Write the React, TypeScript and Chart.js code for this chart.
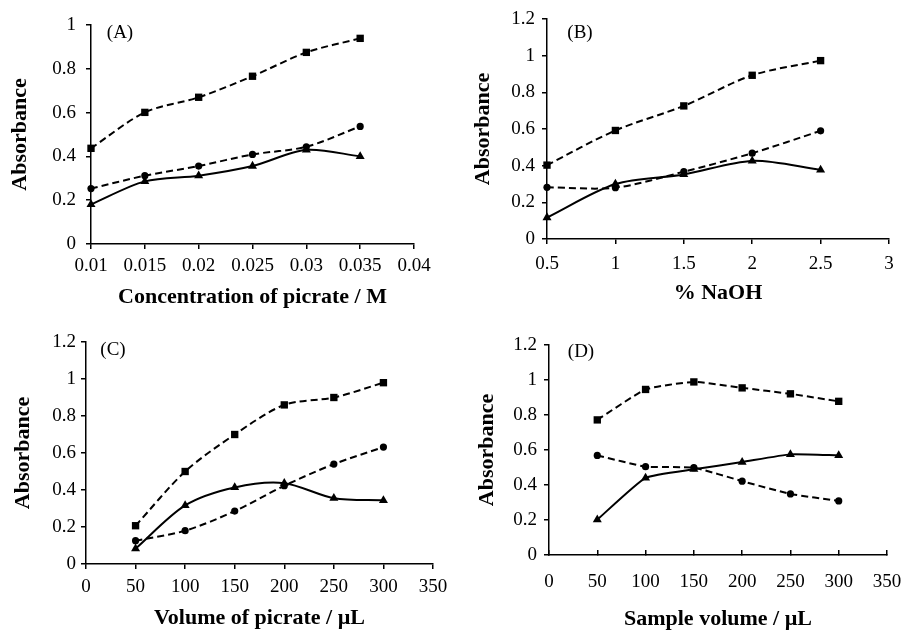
import React, { useEffect, useRef } from 'react';
import { Chart, registerables } from 'chart.js';

Chart.register(...registerables);

// ---------- Data ----------
// Panel A: concentration of picrate / M
const xA = [0.01, 0.015, 0.02, 0.025, 0.03, 0.035];
const squaresA = [0.437, 0.601, 0.67, 0.766, 0.875, 0.939];
const circlesA = [0.253, 0.312, 0.356, 0.409, 0.444, 0.537];
const trianglesA = [0.181, 0.286, 0.312, 0.356, 0.43, 0.4];
const xTicksA = [0.01, 0.015, 0.02, 0.025, 0.03, 0.035, 0.04];
const yTicksA = [0, 0.2, 0.4, 0.6, 0.8, 1];

// Panel B: % NaOH
const xB = [0.5, 1, 1.5, 2, 2.5];
const squaresB = [0.403, 0.592, 0.726, 0.893, 0.973];
const circlesB = [0.282, 0.28, 0.367, 0.468, 0.59];
const trianglesB = [0.117, 0.3, 0.352, 0.426, 0.377];
const xTicksB = [0.5, 1, 1.5, 2, 2.5, 3];
const yTicksB = [0, 0.2, 0.4, 0.6, 0.8, 1, 1.2];

// Panel C: volume of picrate / µL
const xC = [50, 100, 150, 200, 250, 300];
const squaresC = [0.207, 0.5, 0.7, 0.86, 0.9, 0.98];
const circlesC = [0.126, 0.18, 0.286, 0.423, 0.54, 0.632];
const trianglesC = [0.083, 0.317, 0.414, 0.437, 0.356, 0.344];
const xTicksC = [0, 50, 100, 150, 200, 250, 300, 350];
const yTicksC = [0, 0.2, 0.4, 0.6, 0.8, 1, 1.2];

// Panel D: sample volume / µL
const xD = [50, 100, 150, 200, 250, 300];
const squaresD = [0.772, 0.946, 0.989, 0.955, 0.921, 0.878];
const circlesD = [0.569, 0.505, 0.499, 0.422, 0.349, 0.309];
const trianglesD = [0.202, 0.441, 0.49, 0.531, 0.575, 0.569];
const xTicksD = [0, 50, 100, 150, 200, 250, 300, 350];
const yTicksD = [0, 0.2, 0.4, 0.6, 0.8, 1, 1.2];

const yTitle = 'Absorbance';

// ---------- Panel definitions ----------
type PanelDef = {
  label: string;
  xTitle: string;
  x: number[];
  squares: number[];
  circles: number[];
  triangles: number[];
  xTicks: number[];
  yTicks: number[];
  tension: number;
  // layout (pixels)
  left: number;
  top: number;
  w: number;
  h: number;
  yW: number;
  xH: number;
  padTop: number;
  padRight: number;
  yLabelPad: number;
  xLabelPad: number;
  xTickLen: number;
  yTitlePad: number;
  xTitlePad: number;
  labelDx: number;
  labelDy: number;
};

const panels: PanelDef[] = [
  {
    label: '(A)', xTitle: 'Concentration of picrate / M',
    x: xA, squares: squaresA, circles: circlesA, triangles: trianglesA,
    xTicks: xTicksA, yTicks: yTicksA, tension: 0.3,
    left: 0, top: 0, w: 450, h: 310, yW: 91, xH: 66, padTop: 25, padRight: 36,
    yLabelPad: 10, xLabelPad: 6, xTickLen: 5, yTitlePad: 9, xTitlePad: 2, labelDx: 29, labelDy: 8,
  },
  {
    label: '(B)', xTitle: '% NaOH',
    x: xB, squares: squaresB, circles: circlesB, triangles: trianglesB,
    xTicks: xTicksB, yTicks: yTicksB, tension: 0.3,
    left: 450, top: 0, w: 451, h: 310, yW: 97, xH: 71, padTop: 19, padRight: 12,
    yLabelPad: 7, xLabelPad: 9, xTickLen: 5, yTitlePad: 22, xTitlePad: 6, labelDx: 33, labelDy: 14,
  },
  {
    label: '(C)', xTitle: 'Volume of picrate / \u00b5L',
    x: xC, squares: squaresC, circles: circlesC, triangles: trianglesC,
    xTicks: xTicksC, yTicks: yTicksC, tension: 0.3,
    left: 0, top: 310, w: 450, h: 320, yW: 86, xH: 66, padTop: 32, padRight: 17,
    yLabelPad: 5, xLabelPad: 7, xTickLen: 5, yTitlePad: 12, xTitlePad: 1, labelDx: 27, labelDy: 8,
  },
  {
    label: '(D)', xTitle: 'Sample volume / \u00b5L',
    x: xD, squares: squaresD, circles: circlesD, triangles: trianglesD,
    xTicks: xTicksD, yTicks: yTicksD, tension: 0.15,
    left: 450, top: 310, w: 451, h: 320, yW: 99, xH: 75, padTop: 35, padRight: 14,
    yLabelPad: 7, xLabelPad: 21, xTickLen: -5, yTitlePad: 26, xTitlePad: 0, labelDx: 32, labelDy: 7,
  },
];

const FONT = '"Liberation Serif", "Times New Roman", "DejaVu Serif", serif';

const panelLabelPlugin = {
  id: 'panelLabel',
  afterDraw(chart: any, _args: any, opts: any) {
    const { ctx, chartArea } = chart;
    ctx.save();
    ctx.font = `19px ${FONT}`;
    ctx.fillStyle = '#000';
    ctx.textAlign = 'center';
    ctx.textBaseline = 'middle';
    ctx.fillText(opts.text, chartArea.left + opts.dx, chartArea.top + opts.dy);
    ctx.restore();
  },
};

function fmt(v: number): string {
  return String(Number(v.toFixed(4)));
}

function Panel({ p }: { p: PanelDef }) {
  const ref = useRef<HTMLCanvasElement | null>(null);
  useEffect(() => {
    if (!ref.current) return;
    const mk = (vals: number[]) => p.x.map((xv, i) => ({ x: xv, y: vals[i] }));
    const common = {
      borderColor: '#000',
      backgroundColor: '#000',
      pointBorderColor: '#000',
      pointBackgroundColor: '#000',
      borderWidth: 2,
      pointBorderWidth: 0,
      tension: p.tension,
      clip: false as any,
      fill: false,
    };
    const chart = new Chart(ref.current, {
      type: 'line',
      data: {
        datasets: [
          { ...common, data: mk(p.squares), pointStyle: 'rect', pointRadius: 5.2, borderDash: [7, 4] },
          { ...common, data: mk(p.circles), pointStyle: 'circle', pointRadius: 3.6, borderDash: [7, 4] },
          { ...common, data: mk(p.triangles), pointStyle: 'triangle', pointRadius: 5.2 },
        ],
      },
      options: {
        animation: false,
        responsive: false,
        maintainAspectRatio: false,
        layout: { padding: { top: p.padTop, right: p.padRight, left: 0, bottom: 0 } },
        plugins: {
          legend: { display: false },
          tooltip: { enabled: false },
          panelLabel: { text: p.label, dx: p.labelDx, dy: p.labelDy },
        } as any,
        scales: {
          x: {
            type: 'linear',
            min: p.xTicks[0],
            max: p.xTicks[p.xTicks.length - 1],
            afterBuildTicks: (axis: any) => {
              axis.ticks = p.xTicks.map((v) => ({ value: v }));
            },
            afterFit: (axis: any) => {
              axis.height = p.xH;
              axis.paddingLeft = 0;
              axis.paddingRight = 0;
            },
            ticks: {
              color: '#000',
              font: { family: FONT, size: 19 },
              padding: p.xLabelPad,
              maxRotation: 0,
              autoSkip: false,
              callback: (v: any) => fmt(Number(v)),
            },
            grid: { drawOnChartArea: false, drawTicks: true, tickLength: p.xTickLen, color: '#000', lineWidth: 1.5 },
            border: { display: true, color: '#000', width: 1.5 },
            title: {
              display: true,
              text: p.xTitle,
              color: '#000',
              font: { family: FONT, size: 22, weight: 'bold', lineHeight: 1 },
              padding: { top: 0, bottom: p.xTitlePad },
            },
          },
          y: {
            type: 'linear',
            min: p.yTicks[0],
            max: p.yTicks[p.yTicks.length - 1],
            afterBuildTicks: (axis: any) => {
              axis.ticks = p.yTicks.map((v) => ({ value: v }));
            },
            afterFit: (axis: any) => {
              axis.width = p.yW;
              axis.paddingTop = 0;
              axis.paddingBottom = 0;
            },
            ticks: {
              color: '#000',
              font: { family: FONT, size: 19 },
              padding: p.yLabelPad,
              autoSkip: false,
              callback: (v: any) => fmt(Number(v)),
            },
            grid: { drawOnChartArea: false, drawTicks: true, tickLength: 5, color: '#000', lineWidth: 1.5 },
            border: { display: true, color: '#000', width: 1.5 },
            title: {
              display: true,
              text: yTitle,
              color: '#000',
              font: { family: FONT, size: 22, weight: 'bold', lineHeight: 1 },
              padding: { top: p.yTitlePad, bottom: 0 },
            },
          },
        },
      },
      plugins: [panelLabelPlugin],
    } as any);
    return () => chart.destroy();
  }, [p]);
  return (
    <canvas
      ref={ref}
      width={p.w}
      height={p.h}
      style={{ position: 'absolute', left: p.left, top: p.top, width: p.w, height: p.h }}
    />
  );
}

export default function App() {
  return (
    <div style={{ position: 'absolute', left: 0, top: 0, width: 901, height: 630, background: '#fff' }}>
      {panels.map((p) => (
        <Panel key={p.label} p={p} />
      ))}
    </div>
  );
}
